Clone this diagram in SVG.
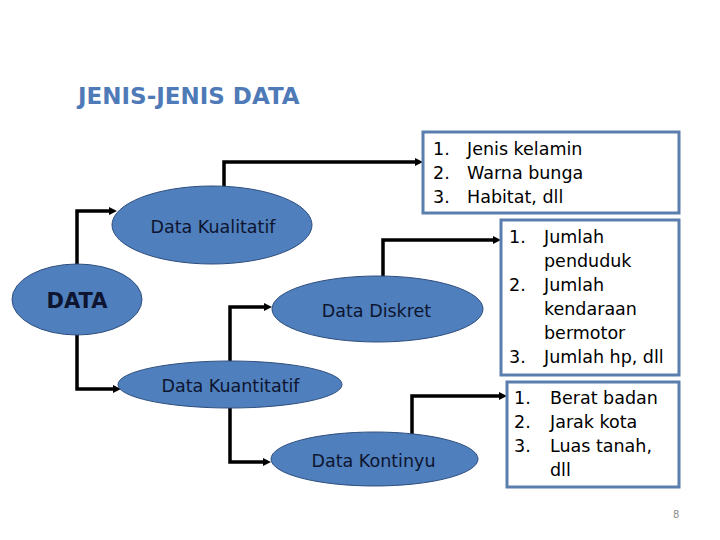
<svg xmlns="http://www.w3.org/2000/svg" width="720" height="540" viewBox="0 0 720 540">
<style>
.conn{fill:none;stroke:#000;stroke-width:3.5;stroke-linejoin:miter;stroke-linecap:butt}
.ell{fill:#4F7FBC;stroke:#2E4E7E;stroke-width:1}
.et{font-family:"DejaVu Sans",Verdana,sans-serif;font-size:17.5px;fill:#0d1530;text-anchor:middle}
.box{fill:#fff;stroke:#5A7EAD;stroke-width:3}
.bt{font-family:"DejaVu Sans",Verdana,sans-serif;font-size:17.5px;fill:#000}
</style>
<defs>
<marker id="arr" viewBox="0 0 8 8" markerWidth="8" markerHeight="8" refX="2" refY="4" orient="auto" markerUnits="userSpaceOnUse">
<path d="M0,0 L8,4 L0,8 z" fill="#000"/>
</marker>
</defs>
<rect width="720" height="540" fill="#fff"/>
<text x="78" y="104" font-family="'DejaVu Sans',Verdana,sans-serif" font-weight="bold" font-size="23" fill="#4F7AB8">JENIS-JENIS DATA</text>
<g id="connectors">
<path class="conn" d="M77,270 V211 H111" marker-end="url(#arr)"/>
<path class="conn" d="M77,330 V389 H115" marker-end="url(#arr)"/>
<path class="conn" d="M224,192 V162 H417" marker-end="url(#arr)"/>
<path class="conn" d="M230,366 V307 H266" marker-end="url(#arr)"/>
<path class="conn" d="M383,282 V240 H495" marker-end="url(#arr)"/>
<path class="conn" d="M230,403 V462 H265" marker-end="url(#arr)"/>
<path class="conn" d="M412,438 V396 H501" marker-end="url(#arr)"/>
</g>
<g id="data">
<ellipse class="ell" cx="77" cy="299.5" rx="65" ry="35.5"/>
<text x="77" y="308" font-family="'DejaVu Sans',Verdana,sans-serif" font-weight="bold" font-size="21" fill="#0d1530" text-anchor="middle">DATA</text>
</g>
<g id="kualitatif">
<ellipse class="ell" cx="212" cy="225" rx="100" ry="39"/>
<text class="et" x="213" y="233">Data Kualitatif</text>
</g>
<g id="diskret">
<ellipse class="ell" cx="377.5" cy="309" rx="105.5" ry="33"/>
<text class="et" x="376.5" y="317">Data Diskret</text>
</g>
<g id="kuantitatif">
<ellipse class="ell" cx="230" cy="384.5" rx="112" ry="23.5"/>
<text class="et" x="230.5" y="392">Data Kuantitatif</text>
</g>
<g id="kontinyu">
<ellipse class="ell" cx="374.5" cy="459" rx="103.5" ry="27"/>
<text class="et" x="373.5" y="467">Data Kontinyu</text>
</g>
<g id="box-kualitatif">
<rect class="box" x="423" y="132" width="256" height="81"/>
<text class="bt" x="433" y="155">1.</text><text class="bt" x="467" y="155">Jenis kelamin</text>
<text class="bt" x="433" y="179">2.</text><text class="bt" x="467" y="179">Warna bunga</text>
<text class="bt" x="433" y="203">3.</text><text class="bt" x="467" y="203">Habitat, dll</text>
</g>
<g id="box-diskret">
<rect class="box" x="501" y="220" width="178" height="155"/>
<text class="bt" x="509" y="243">1.</text><text class="bt" x="544" y="243">Jumlah</text>
<text class="bt" x="544" y="267">penduduk</text>
<text class="bt" x="509" y="291">2.</text><text class="bt" x="544" y="291">Jumlah</text>
<text class="bt" x="544" y="315">kendaraan</text>
<text class="bt" x="544" y="339">bermotor</text>
<text class="bt" x="509" y="363">3.</text><text class="bt" x="544" y="363">Jumlah hp, dll</text>
</g>
<g id="box-kontinyu">
<rect class="box" x="507" y="382" width="172" height="105"/>
<text class="bt" x="514" y="404">1.</text><text class="bt" x="550" y="404">Berat badan</text>
<text class="bt" x="514" y="428">2.</text><text class="bt" x="550" y="428">Jarak kota</text>
<text class="bt" x="514" y="452">3.</text><text class="bt" x="550" y="452">Luas tanah,</text>
<text class="bt" x="550" y="476">dll</text>
</g>
<text x="673" y="518" font-family="'DejaVu Sans',Verdana,sans-serif" font-size="10" fill="#8c8c8c">8</text>
</svg>
